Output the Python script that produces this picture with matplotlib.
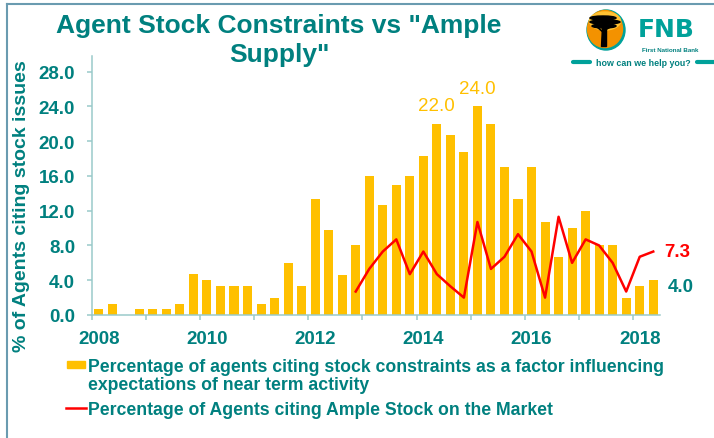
import matplotlib
matplotlib.use("Agg")
import matplotlib.pyplot as plt
from matplotlib.patches import Rectangle, Ellipse, Polygon
from matplotlib.lines import Line2D
import numpy as np

plt.rcParams['font.family'] = ['Liberation Sans', 'DejaVu Sans']

W, H = 714, 439
TEAL = "#00807F"
GOLD = "#FFC000"
RED = "#FF0000"
AXIS_COL = "#9ACACA"
LOGO_TEAL = "#00A19A"

# quarterly categories, 2008Q1 .. 2018Q2
quarters = [f"{y}Q{q}" for y in range(2008, 2019) for q in range(1, 5)][:42]
year_labels = ["2008", "2010", "2012", "2014", "2016", "2018"]

# % of agents citing stock constraints (bars)
stock_constraints = [0.7, 1.3, 0.0, 0.7, 0.7, 0.7, 1.3, 4.7, 4.0, 3.3,
                     3.3, 3.3, 1.3, 2.0, 6.0, 3.3, 13.3, 9.8, 4.6, 8.0,
                     16.0, 12.7, 15.0, 16.0, 18.3, 22.0, 20.7, 18.7, 24.0, 22.0,
                     17.0, 13.3, 17.0, 10.7, 6.7, 10.0, 12.0, 8.0, 8.0, 2.0,
                     3.3, 4.0]
# % of agents citing ample stock (line), starts 2012Q4
ample_start = "2012Q4"
ample_stock = [2.7, 5.3, 7.3, 8.7, 4.7, 7.3, 4.7, 3.3, 2.0, 10.7,
               5.3, 6.7, 9.3, 7.3, 2.0, 11.3, 6.0, 8.7, 8.0, 6.0,
               2.7, 6.7, 7.3]


def fx(px):
    return px / W


def fy(py):
    return 1 - py / H


fig = plt.figure(figsize=(W / 100, H / 100), dpi=100)
ax = fig.add_axes([fx(92), fy(316), (660 - 92) / W, (316 - 57) / H])

x = np.arange(len(quarters))
ax.bar(x, stock_constraints, width=0.667, color=GOLD, zorder=2)
x_line = np.arange(quarters.index(ample_start), len(quarters))
ax.plot(x_line, ample_stock, color=RED, lw=1.8, zorder=3)

ax.set_xlim(-0.5, len(quarters) - 0.5)
ax.set_ylim(0, 29.8)
ax.set_yticks(np.arange(0, 29, 4))
ax.set_yticklabels([f"{v:.1f}" for v in np.arange(0, 29, 4)])
ax.set_xticks([quarters.index(y + "Q1") for y in year_labels])
ax.set_xticklabels(year_labels)
ax.set_xticks(np.arange(-0.5, len(quarters) - 1, 4), minor=True)

for s in ["top", "right"]:
    ax.spines[s].set_visible(False)
for s in ["left", "bottom"]:
    ax.spines[s].set_color(AXIS_COL)
    ax.spines[s].set_linewidth(1.1)

ax.tick_params(axis="y", direction="out", length=3.6, width=1.1, color=AXIS_COL,
               labelsize=13.5, labelcolor=TEAL, pad=8.5)
ax.tick_params(axis="x", which="major", length=0, labelsize=13.5,
               labelcolor=TEAL, pad=11)
ax.tick_params(axis="x", which="minor", direction="out", length=3.6, width=1.1,
               color=AXIS_COL)
for lab in ax.get_xticklabels() + ax.get_yticklabels():
    lab.set_fontweight("bold")

# value labels
ax.annotate("22.0", xy=(25, stock_constraints[25]), xytext=(0, 7),
            textcoords="offset points", ha="center", va="bottom",
            color=GOLD, fontsize=13.5)
ax.annotate("24.0", xy=(28, stock_constraints[28]), xytext=(0, 7),
            textcoords="offset points", ha="center", va="bottom",
            color=GOLD, fontsize=13.5)
ax.annotate("7.3", xy=(x_line[-1], ample_stock[-1]), xytext=(8, 0),
            textcoords="offset points", ha="left", va="center",
            color=RED, fontsize=13.5, fontweight="bold", annotation_clip=False)
ax.annotate("4.0", xy=(x[-1], stock_constraints[-1]), xytext=(10.5, -4.5),
            textcoords="offset points", ha="left", va="center",
            color=TEAL, fontsize=13.5, fontweight="bold", annotation_clip=False)

# title
fig.text(fx(279), fy(33), 'Agent Stock Constraints vs "Ample', ha="center",
         va="baseline", fontsize=19, fontweight="bold", color=TEAL)
fig.text(fx(279), fy(62), 'Supply"', ha="center", va="baseline",
         fontsize=19, fontweight="bold", color=TEAL)

# y label
fig.text(fx(22), fy(206), "% of Agents citing stock issues", rotation=90,
         ha="center", va="center", fontsize=14, fontweight="bold", color=TEAL)

# legend
fig.add_artist(Rectangle((fx(67), fy(369)), 18 / W, 7 / H, color=GOLD,
                         transform=fig.transFigure))
fig.text(fx(88), fy(372),
         "Percentage of agents citing stock constraints as a factor influencing",
         va="baseline", fontsize=12.7, fontweight="bold", color=TEAL)
fig.text(fx(88), fy(390), "expectations of near term activity",
         va="baseline", fontsize=12.7, fontweight="bold", color=TEAL)
fig.add_artist(Line2D([fx(66), fx(86)], [fy(409), fy(409)], color=RED, lw=1.8,
                      transform=fig.transFigure))
fig.text(fx(88), fy(415), "Percentage of Agents citing Ample Stock on the Market",
         va="baseline", fontsize=12.7, fontweight="bold", color=TEAL)

# frame lines
fig.add_artist(Line2D([fx(7), 1], [fy(5), fy(5)], color="#6A9BB0", lw=1.5,
                      transform=fig.transFigure))
fig.add_artist(Line2D([fx(7), fx(7)], [fy(5), 0], color="#6A9BB0", lw=1.5,
                      transform=fig.transFigure))

# FNB logo
lg = fig.add_axes([fx(570), fy(80), 144 / W, 80 / H])
lg.set_xlim(570, 714)
lg.set_ylim(80, 0)
lg.axis("off")
lg.add_patch(Ellipse((606, 31), 38, 40, color=LOGO_TEAL))
lg.add_patch(Ellipse((605, 30), 35, 37, color="#F39200"))
lg.add_patch(Ellipse((605, 22), 31, 18, color="#FFC233"))
lg.add_patch(Ellipse((603, 19), 26, 4, color="black"))
lg.add_patch(Ellipse((605, 23), 30, 4, color="black"))
lg.add_patch(Ellipse((604, 27), 24, 4, color="black"))
lg.add_patch(Polygon([(602, 27), (606, 27), (606, 47), (601, 47)], color="black"))
lg.plot([603, 596], [33, 27], color="black", lw=1.2)
lg.plot([605, 612], [31, 27], color="black", lw=1.2)
lg.text(638, 37, "FNB", fontsize=18, fontweight="bold", color=LOGO_TEAL,
        family="DejaVu Sans", va="baseline")
lg.text(670, 50, "First National Bank", fontsize=4.5, fontweight="bold",
        color=TEAL, ha="center", va="center")
lg.text(643.5, 63, "how can we help you?", fontsize=6.4, fontweight="bold",
        color=TEAL, ha="center", va="center")
lg.plot([573, 590], [63, 63], color=LOGO_TEAL, lw=3, solid_capstyle="round")
lg.plot([697, 714], [63, 63], color=LOGO_TEAL, lw=3, solid_capstyle="round")

fig.savefig("out.png", dpi=100)
